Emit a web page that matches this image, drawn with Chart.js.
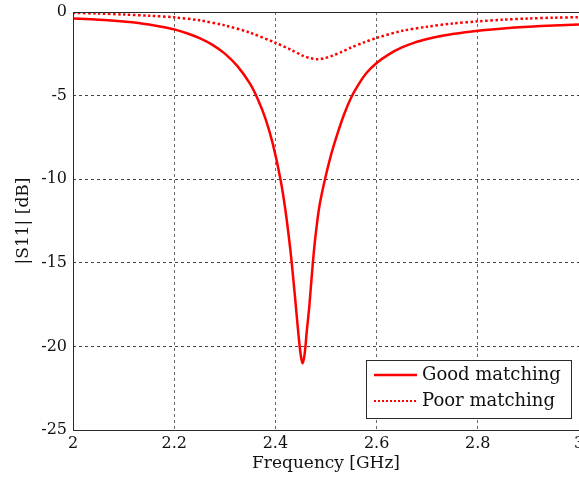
<!DOCTYPE html>
<html>
<head>
<meta charset="utf-8">
<script src="https://cdn.jsdelivr.net/npm/chart.js@4/dist/chart.umd.min.js"></script>
<style>
  html, body { margin: 0; padding: 0; background: #fff; }
  #wrap { width: 579px; height: 479px; position: relative; }
</style>
</head>
<body>
<div id="wrap"><canvas id="s11Chart" width="579" height="479"></canvas></div>
<script>
// values
var freqGood = [2.000, 2.025, 2.050, 2.075, 2.100, 2.125, 2.150, 2.175, 2.200, 2.225, 2.250, 2.275, 2.300, 2.325, 2.350, 2.365, 2.380, 2.395, 2.410, 2.420, 2.430, 2.438, 2.445, 2.450, 2.454, 2.458, 2.462, 2.467, 2.474, 2.480, 2.487, 2.498, 2.510, 2.523, 2.536, 2.550, 2.565, 2.580, 2.600, 2.625, 2.650, 2.675, 2.700, 2.725, 2.750, 2.775, 2.800, 2.850, 2.900, 2.950, 3.000];
var s11Good = [-0.39, -0.42, -0.46, -0.51, -0.57, -0.64, -0.75, -0.88, -1.04, -1.27, -1.56, -1.95, -2.49, -3.24, -4.30, -5.20, -6.35, -7.90, -10.0, -11.9, -14.35, -16.8, -19.1, -20.5, -21.0, -20.4, -19.1, -17.6, -15.0, -13.2, -11.6, -10.0, -8.55, -7.25, -6.10, -5.10, -4.30, -3.65, -3.05, -2.52, -2.12, -1.83, -1.62, -1.45, -1.32, -1.21, -1.12, -0.98, -0.88, -0.81, -0.75];

var freqPoor = [2.000, 2.050, 2.100, 2.150, 2.200, 2.250, 2.300, 2.350, 2.400, 2.430, 2.455, 2.470, 2.483, 2.497, 2.512, 2.530, 2.550, 2.575, 2.600, 2.650, 2.700, 2.750, 2.800, 2.850, 2.900, 2.950, 3.000];
var s11Poor = [-0.05, -0.09, -0.15, -0.22, -0.32, -0.50, -0.80, -1.24, -1.84, -2.25, -2.62, -2.77, -2.83, -2.76, -2.62, -2.40, -2.12, -1.82, -1.55, -1.13, -0.88, -0.69, -0.56, -0.46, -0.39, -0.34, -0.31];

var seriesNames = ["Good matching", "Poor matching"];
var xTicks = [2, 2.2, 2.4, 2.6, 2.8, 3];
var yTicks = [0, -5, -10, -15, -20, -25];

var serif = "'DejaVu Serif', 'Liberation Serif', serif";

function toPoints(xs, ys){
    var pts = [];
    for(var i = 0; i < xs.length; i++){
        pts.push({x: xs[i], y: ys[i]});
    }
    return pts;
}

// box round the plot (left, top, bottom) + legend inside the plot area
var framePlugin = {
    id: "frame",
    afterDatasetsDraw: function(chart){
        var ctx = chart.ctx;
        var a = chart.chartArea;
        ctx.save();
        ctx.strokeStyle = "#2a2a2a";
        ctx.lineWidth = 1;
        ctx.beginPath();
        ctx.moveTo(579, a.top + 0.5);
        ctx.lineTo(a.left + 0.5, a.top + 0.5);
        ctx.lineTo(a.left + 0.5, a.bottom + 0.5);
        ctx.lineTo(579, a.bottom + 0.5);
        ctx.stroke();

        // legend
        var bx = 366.5, by = 360.5, bw = 205, bh = 58;
        ctx.fillStyle = "#fff";
        ctx.fillRect(bx, by, bw, bh);
        ctx.strokeRect(bx, by, bw, bh);
        var rows = [375, 401];
        ctx.font = "18px " + serif;
        ctx.textBaseline = "middle";
        ctx.textAlign = "left";
        for(var i = 0; i < 2; i++){
            var ds = chart.data.datasets[i];
            ctx.strokeStyle = ds.borderColor;
            ctx.lineWidth = i == 0 ? 2.5 : 2;
            ctx.setLineDash(i == 0 ? [] : [2, 2]);
            ctx.beginPath();
            ctx.moveTo(374, rows[i]);
            ctx.lineTo(417, rows[i]);
            ctx.stroke();
            ctx.setLineDash([]);
            ctx.fillStyle = "#111";
            ctx.fillText(ds.label, 422, rows[i]);
        }
        ctx.restore();
    }
};

new Chart(document.getElementById("s11Chart"), {
    type: "line",
    data: {
        datasets: [{
            label: seriesNames[0],
            data: toPoints(freqGood, s11Good),
            borderColor: "#ff0000",
            borderWidth: 2.5,
            pointRadius: 0,
            tension: 0.3,
            fill: false
        }, {
            label: seriesNames[1],
            data: toPoints(freqPoor, s11Poor),
            borderColor: "#ff0000",
            borderWidth: 2.5,
            borderDash: [2.5, 2.5],
            pointRadius: 0,
            tension: 0.3,
            fill: false
        }]
    },
    options: {
        responsive: false,
        animation: false,
        layout: { padding: { top: 12, left: 0, right: 0, bottom: 0 } },
        plugins: {
            legend: { display: false },
            tooltip: { enabled: false }
        },
        scales: {
            x: {
                type: "linear",
                min: 2,
                max: 3,
                afterBuildTicks: function(scale){
                    scale.ticks = xTicks.map(function(v){ return {value: v}; });
                },
                afterFit: function(scale){
                    scale.height = 49;
                    scale.paddingLeft = 0;
                    scale.paddingRight = 0;
                },
                ticks: {
                    autoSkip: false,
                    maxRotation: 0,
                    padding: 4,
                    color: "#111",
                    font: { family: serif, size: 16 },
                    callback: function(v){ return String(Math.round(v * 10) / 10); }
                },
                grid: { color: "#666", lineWidth: 1, drawTicks: false },
                border: { display: false, dash: [3, 3] },
                title: {
                    display: true,
                    text: "Frequency [GHz]",
                    color: "#111",
                    font: { family: serif, size: 17 },
                    padding: { top: 0, bottom: 5 }
                }
            },
            y: {
                min: -25,
                max: 0,
                afterBuildTicks: function(scale){
                    scale.ticks = yTicks.slice().reverse().map(function(v){ return {value: v}; });
                },
                afterFit: function(scale){
                    scale.width = 73;
                    scale.paddingTop = 0;
                    scale.paddingBottom = 0;
                },
                ticks: {
                    padding: 6,
                    color: "#111",
                    font: { family: serif, size: 16 }
                },
                grid: { color: "#444", lineWidth: 1, drawTicks: false },
                border: { display: false, dash: [3, 3] },
                title: {
                    display: true,
                    text: "|S11| [dB]",
                    color: "#111",
                    font: { family: serif, size: 17 },
                    padding: { top: 13, bottom: 0 }
                }
            }
        }
    },
    plugins: [framePlugin]
});
</script>
</body>
</html>
